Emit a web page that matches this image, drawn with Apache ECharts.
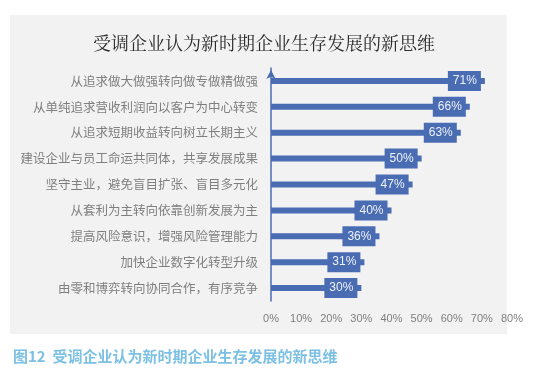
<!DOCTYPE html>
<html><head><meta charset="utf-8">
<script src="https://cdn.jsdelivr.net/npm/echarts@6/dist/echarts.min.js"></script>
<style>html,body{margin:0;padding:0;background:#fff}#c{width:554px;height:381px}</style>
</head><body><div id="c"></div>
<script>
var categories = ['从追求做大做强转向做专做精做强','从单纯追求营收利润向以客户为中心转变','从追求短期收益转向树立长期主义','建设企业与员工命运共同体，共享发展成果','坚守主业，避免盲目扩张、盲目多元化','从套利为主转向依靠创新发展为主','提高风险意识，增强风险管理能力','加快企业数字化转型升级','由零和博弈转向协同合作，有序竞争'];
var values = [71, 66, 63, 50, 47, 40, 36, 31, 30];
var xTicks = [0, 10, 20, 30, 40, 50, 60, 70, 80];
var titleText = '受调企业认为新时期企业生存发展的新思维';
var captionText = '图12  受调企业认为新时期企业生存发展的新思维';

var blue = '#4a6cb3';
var chart = echarts.init(document.getElementById('c'));
chart.setOption({
  backgroundColor: '#fff',
  animation: false,
  graphic: [{type:'rect', left:10, top:15, shape:{width:497, height:319}, style:{fill:'#f2f2f2'}, z:-10}],
  title: [
    {text: titleText, left: 259, textAlign:'center', top: 29, textStyle:{fontFamily:'Noto Serif CJK SC, Noto Sans CJK SC', fontSize:18, fontWeight:'normal', color:'#2b2b2b'}},
    {text: captionText, left: 8, top: 344, textStyle:{fontFamily:'Noto Sans CJK SC', fontSize:15, fontWeight:'bold', color:'#7cc0e3'}}
  ],
  grid: {left: 271, top: 68, width: 241, height: 233, containLabel: false},
  xAxis: {type:'value', min: xTicks[0], max: xTicks[xTicks.length-1], interval: 10,
    axisLine:{show:false}, axisTick:{show:false}, splitLine:{show:false},
    axisLabel:{formatter:'{value}%', color:'#7f7f7f', fontSize:11, fontFamily:'Liberation Sans, Noto Sans', margin:12}},
  yAxis: {type:'category', data: categories, inverse: true,
    axisLine:{show:true, lineStyle:{color:blue, width:1.5}, symbol:['none','arrow'], symbolSize:[7,9], symbolOffset:[0,-2]},
    axisTick:{show:false},
    axisLabel:{color:'#7f7f7f', fontSize:12.5, fontFamily:'Noto Sans CJK SC', margin:13}},
  series: [{type:'bar', data: values, barWidth: 6, itemStyle:{color: blue},
    label:{show:true, position:'insideRight', distance:4, formatter:'{c}%', color:'#eef2fa', fontSize:12, fontFamily:'Liberation Sans, Noto Sans',
      backgroundColor: blue, padding:[4,4,4,5], lineHeight:12, borderRadius:0}}]
});
</script></body></html>
